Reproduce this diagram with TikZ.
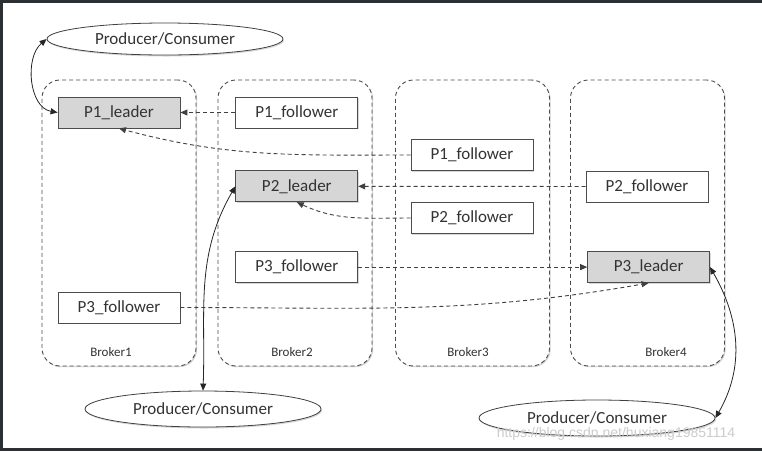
\documentclass[tikz,border=0pt]{standalone}
\usepackage{fontspec}
\setmainfont{Carlito}
\newfontfamily\markfont{Liberation Sans}
\usepackage{tikz}
\usetikzlibrary{arrows.meta,positioning,shapes.geometric,shadows}

\definecolor{screenframe}{HTML}{2B3035}
\definecolor{leaderfill}{HTML}{D6D6D6}
\definecolor{textgray}{HTML}{333333}

\begin{document}
\begin{tikzpicture}[
  x=1pt, y=-1pt,
  node distance=55pt,
  broker/.style={rectangle, rounded corners=18pt, draw=black!70, line width=0.9pt, dash pattern=on 4pt off 3pt, fill=white, minimum width=154pt, minimum height=286pt, drop shadow={shadow xshift=1.2pt, shadow yshift=-1.2pt, opacity=0.35}},
  part/.style={rectangle, draw=black!70, line width=0.8pt, fill=white, text=textgray, minimum width=122pt, minimum height=31pt, inner sep=0pt, font=\fontsize{17}{20}\selectfont, drop shadow={shadow xshift=1pt, shadow yshift=-1.2pt, opacity=0.3}},
  leader/.style={part, fill=leaderfill},
  client/.style={ellipse, draw=black!75, line width=0.8pt, fill=white, text=textgray, minimum width=236pt, minimum height=34pt, inner sep=0pt, font=\fontsize{17}{20}\selectfont, drop shadow={shadow xshift=1pt, shadow yshift=-1.5pt, opacity=0.3}},
  brokername/.style={text=textgray, font=\fontsize{13}{15}\selectfont},
  watermark/.style={text=black!20, font=\markfont\fontsize{14}{16}\selectfont},
  sync/.style={-{Triangle[width=6pt,length=7pt]}, line width=0.9pt, dash pattern=on 4pt off 3pt, black!75},
  link/.style={{Triangle[width=6pt,length=7pt]}-{Triangle[width=6pt,length=7pt]}, line width=0.8pt, black!85}
]

% screenshot frame
\fill[screenframe] (0,0) rectangle (762,451);
\fill[white] (3,3) rectangle (762,448);
\useasboundingbox (0,0) rectangle (762,451);

% brokers
\node[broker] (b1) at (119,223) {};
\node[broker] (b2) at (295,223) {};
\node[broker] (b3) at (472.5,223) {};
\node[broker] (b4) at (647.5,223) {};
\node[brokername] (b1name) at (111,352) {Broker1};
\node[brokername] (b2name) at (292,352) {Broker2};
\node[brokername] (b3name) at (468,352) {Broker3};
\node[brokername] (b4name) at (666,352) {Broker4};

% partitions
\node[leader] (p1l) at (119,112.5) {P1\_leader};
\node[part, right=of p1l] (p1f2) {P1\_follower};
\node[part] (p1f3) at (472,155) {P1\_follower};
\node[leader, below=42pt of p1f2] (p2l) {P2\_leader};
\node[part] (p2f4) at (647,186.5) {P2\_follower};
\node[part] (p2f3) at (472,218) {P2\_follower};
\node[part, below=49pt of p2l] (p3f2) {P3\_follower};
\node[leader, right=229pt of p3f2] (p3l) {P3\_leader};
\node[part] (p3f1) at (119,307.5) {P3\_follower};

% clients
\node[client, minimum height=32pt] (pc1) at (165,39) {Producer/Consumer};
\node[client, minimum height=36pt] (pc2) at (203,409) {Producer/Consumer};
\node[client, minimum height=36pt] (pc3) at (597,418) {Producer/Consumer};

% replication
\draw[sync] (p1f2) -- (p1l);
\draw[sync] (p1f3.west) to[out=180, in=-15] (p1l.south);
\draw[sync] (p2f4) -- (p2l);
\draw[sync] (p2f3.west) to[out=180, in=-25] (p2l.south);
\draw[sync] (p3f2) -- (p3l);
\draw[sync] (p3f1.east) to[out=0, in=190] (p3l.south);

% clients talk to leaders
\draw[link] (pc1.west) to[out=220, in=170] (p1l.west);
\draw[link] (pc2.north) to[out=88, in=240] (p2l.west);
\draw[link] (p3l.east) to[out=-60, in=60] (pc3.east);

\node[watermark] (wm) at (616,434) {https://blog.csdn.net/huxiang19851114};

\end{tikzpicture}
\end{document}
